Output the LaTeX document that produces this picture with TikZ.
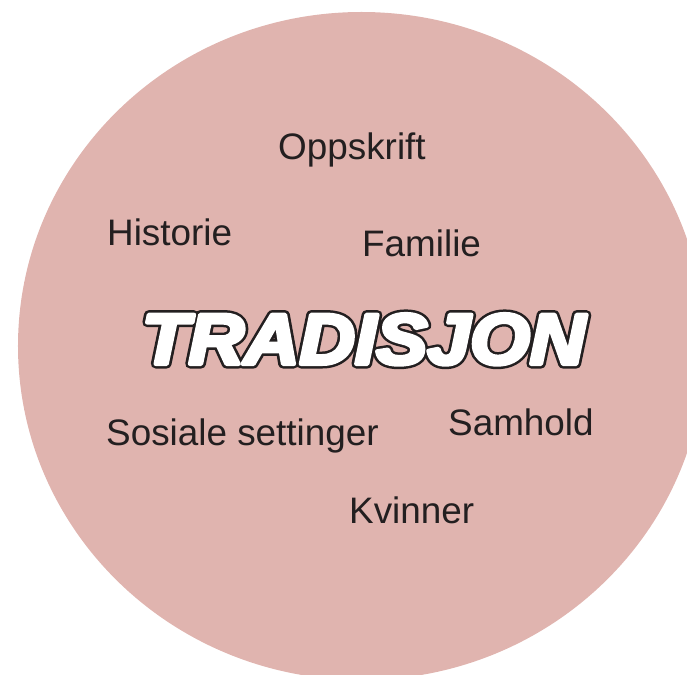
\documentclass[tikz,border=0pt]{standalone}
\usepackage{fontspec}
\setmainfont{Liberation Sans}
\usepackage{graphicx}
\definecolor{blob}{RGB}{224,180,175}
\definecolor{ink}{RGB}{35,31,32}
\newcommand{\tradword}[1]{\fontsize{72}{80}\selectfont\bfseries\itshape\scalebox{1.07}[1]{\special{pdf:literal direct q 1 j 2 Tr #1}TRADISJON\special{pdf:literal direct Q}}}
\begin{document}
\begin{tikzpicture}[x=1bp,y=-1bp,
  word/.style={inner sep=0pt,anchor=base west,text=ink,font=\fontsize{37}{41}\selectfont},
  titlebase/.style={inner sep=0pt,anchor=base}]
\useasboundingbox (0,0) rectangle (687,675);
\clip (0,0) rectangle (687,675);
\fill[blob] (361.5,346) ellipse [x radius=343.5bp, y radius=334bp];
\node[word] (oppskrift) at (278,159) {Oppskrift};
\node[word] (historie) at (107,245) {Historie};
\node[word] (familie) at (362,256) {Familie};
\node[word] (sosiale) at (106,445) {Sosiale settinger};
\node[word] (samhold) at (448,435) {Samhold};
\node[word] (kvinner) at (349,523) {Kvinner};
\node[titlebase,text=ink] (titleoutline) at (363.5,364) {\tradword{9 w 0.137 0.122 0.125 RG 0.137 0.122 0.125 rg}};
\node[titlebase,text=white] (title) at (363.5,364) {\tradword{4 w 1 1 1 RG 1 1 1 rg}};
\end{tikzpicture}
\end{document}
